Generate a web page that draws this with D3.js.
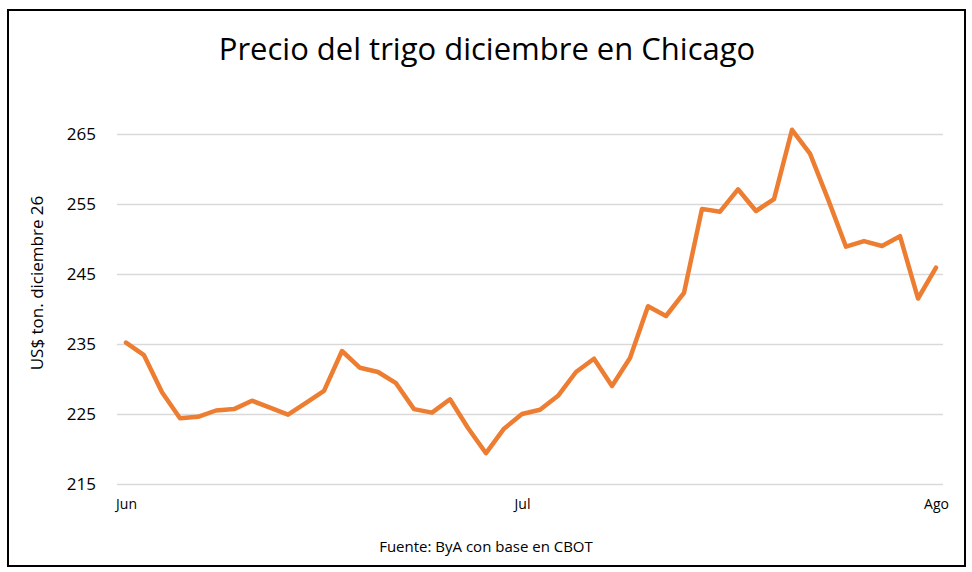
<!DOCTYPE html>
<html>
<head>
<meta charset="utf-8">
<script src="https://cdn.jsdelivr.net/npm/d3@7"></script>
<style>
  body { margin: 0; background: #fff; }
  text { font-family: "Open Sans", "Noto Sans", sans-serif; fill: #000; }
</style>
</head>
<body>
<svg id="chart" width="972" height="572"></svg>
<script>
// precio diario, trigo diciembre 26 (US$/ton)
const precios = [
  235.2, 233.4, 228.1, 224.4, 224.6, 225.5, 225.7, 226.9, 225.9, 224.9,
  226.6, 228.3, 234.0, 231.6, 231.0, 229.4, 225.7, 225.2, 227.1, 223.0,
  219.4, 222.9, 225.0, 225.6, 227.6, 231.0, 232.9, 229.0, 233.0, 240.4,
  239.0, 242.3, 254.3, 253.9, 257.1, 254.0, 255.7, 265.6, 262.2, 255.7,
  248.9, 249.7, 249.0, 250.4, 241.5, 245.9
];
const meses = [
  { idx: 0, label: "Jun" },
  { idx: 22, label: "Jul" },
  { idx: 45, label: "Ago" }
];
const yTicks = [215, 225, 235, 245, 255, 265];

const svg = d3.select("#chart"),
    margin = {top: 134, right: 29, bottom: 88, left: 117},
    width = +svg.attr("width"),
    height = +svg.attr("height");

// borde del grafico
svg.append("rect")
    .attr("x", 8).attr("y", 10)
    .attr("width", 957).attr("height", 556)
    .attr("fill", "none")
    .attr("stroke", "#000")
    .attr("stroke-width", 2);

const x = d3.scaleLinear()
    .domain([0, precios.length - 1])
    .range([126, 936]);

const y = d3.scaleLinear()
    .domain([215, 265])
    .range([height - margin.bottom, margin.top]);

// grilla + etiquetas del eje y
const yAxis = svg.append("g")
    .attr("transform", "translate(" + margin.left + ",0)")
    .call(d3.axisLeft(y).tickValues(yTicks).tickSize(-(width - margin.left - margin.right)).tickPadding(21));
yAxis.select(".domain").remove();
yAxis.selectAll(".tick line").attr("stroke", "#d9d9d9").attr("stroke-width", 1.5);
yAxis.selectAll(".tick text")
    .attr("font-size", 17)
    .attr("font-family", "\"Open Sans\", sans-serif");

// eje x: solo meses
const xAxis = svg.append("g")
    .attr("transform", "translate(0," + (height - margin.bottom) + ")")
    .call(d3.axisBottom(x)
        .tickValues(meses.map(d => d.idx))
        .tickFormat((d, i) => meses[i].label)
        .tickSize(0)
        .tickPadding(15));
xAxis.select(".domain").remove();
xAxis.selectAll(".tick text")
    .attr("font-size", 14)
    .attr("font-family", "\"Open Sans\", sans-serif");

const line = d3.line()
    .x((d, i) => x(i))
    .y(d => y(d));

svg.append("path")
    .datum(precios)
    .attr("fill", "none")
    .attr("stroke", "#ED7D31")
    .attr("stroke-width", 4.5)
    .attr("stroke-linejoin", "round")
    .attr("stroke-linecap", "round")
    .attr("d", line);

svg.append("text")
    .attr("x", 487).attr("y", 60)
    .attr("text-anchor", "middle")
    .attr("font-size", 31)
    .text("Precio del trigo diciembre en Chicago");

svg.append("text")
    .attr("transform", "translate(43,283) rotate(-90)")
    .attr("text-anchor", "middle")
    .attr("font-size", 17)
    .text("US$ ton. diciembre 26");

svg.append("text")
    .attr("x", 486).attr("y", 552)
    .attr("text-anchor", "middle")
    .attr("font-size", 15)
    .text("Fuente: ByA con base en CBOT");
</script>
</body>
</html>
